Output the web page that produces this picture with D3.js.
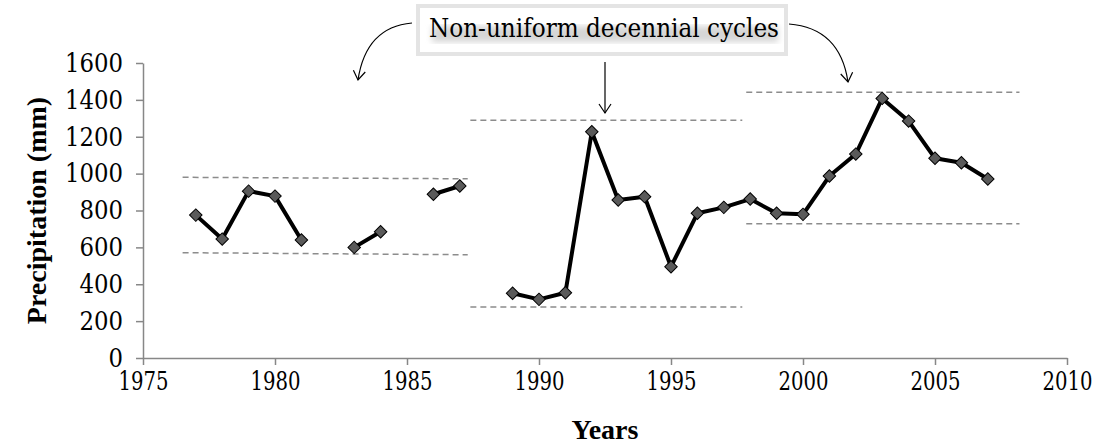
<!DOCTYPE html>
<html>
<head>
<meta charset="utf-8">
<script src="https://cdn.jsdelivr.net/npm/d3@7"></script>
<style>
  body { margin: 0; background: #fff; }
  svg { display: block; }
  .axis path, .axis line { stroke: #878787; stroke-width: 1.5; }
</style>
</head>
<body>
<svg id="chart"></svg>
<script>
// yearly precipitation (mm), null = no record
var years = [1977, 1978, 1979, 1980, 1981, 1982, 1983, 1984, 1985, 1986, 1987, 1988,
  1989, 1990, 1991, 1992, 1993, 1994, 1995, 1996, 1997, 1998, 1999, 2000,
  2001, 2002, 2003, 2004, 2005, 2006, 2007];
var precip = [775, 645, 905, 878, 640, null, 600, 685, null, 888, 933, null,
  351, 318, 354, 1227, 857, 875, 495, 785, 817, 862, 785, 779,
  987, 1106, 1408, 1285, 1083, 1059, 971];

// decennial cycle bands (dashed guides)
var bandStart = [1976.5, 1987.4, 1997.85];
var bandEnd = [1987.3, 1997.7, 2008.2];
var bandUpperStart = [980, 1289, 1441];
var bandUpperEnd = [972, 1289, 1441];
var bandLowerStart = [571, 276, 728];
var bandLowerEnd = [560, 276, 728];

var xTicks = [1975, 1980, 1985, 1990, 1995, 2000, 2005, 2010];
var yTicks = [0, 200, 400, 600, 800, 1000, 1200, 1400, 1600];

var WIDTH = 1102, HEIGHT = 446;
var SERIF = "'Liberation Serif', 'Times New Roman', serif";
var SERIF_REG = "'DejaVu Serif Condensed', 'DejaVu Serif', serif";

function drawChart() {
  var svg = d3.select("#chart").attr("width", WIDTH).attr("height", HEIGHT);

  var xScale = d3.scaleLinear().domain([1975, 2010]).range([143, 1067]);
  var yScale = d3.scaleLinear().domain([0, 1600]).range([358, 63]);

  // axes
  var yAxis = d3.axisLeft(yScale).tickValues(yTicks).tickSize(7).tickPadding(13)
    .tickSizeOuter(0).tickFormat(d3.format("d"));
  var yG = svg.append("g").attr("class", "axis")
    .attr("transform", "translate(143,0)")
    .call(yAxis);

  var xAxis = d3.axisBottom(xScale).tickValues(xTicks).tickSize(7).tickPadding(7)
    .tickSizeOuter(0).tickFormat(d3.format("d"));
  var xG = svg.append("g").attr("class", "axis")
    .attr("transform", "translate(0,358)")
    .call(xAxis);

  svg.selectAll(".axis").attr("font-family", SERIF_REG).attr("font-size", 26);
  svg.selectAll(".axis text")
    .style("font-family", SERIF_REG)
    .style("font-size", "26px")
    .attr("fill", "#000")
    .attr("lengthAdjust", "spacingAndGlyphs");
  // squeeze the digits so they look like the narrow Times figures
  yG.selectAll("text").attr("textLength", function(d) { return String(d).length * 14.5; });
  xG.selectAll("text").attr("textLength", function(d) { return String(d).length * 12.5; });

  // axis titles
  svg.append("text")
    .style("font-family", SERIF).style("font-weight", "bold").style("font-size", "28px")
    .attr("text-anchor", "middle")
    .attr("transform", "translate(46," + ((63 + 358) / 2) + ") rotate(-90)")
    .text("Precipitation (mm)");
  svg.append("text")
    .style("font-family", SERIF).style("font-weight", "bold").style("font-size", "28px")
    .attr("text-anchor", "middle")
    .attr("x", (143 + 1067) / 2)
    .attr("y", 439)
    .text("Years");

  // dashed band guides
  var bands = d3.range(bandStart.length);
  var dashGroup = svg.append("g")
    .attr("stroke", "#8c8c8c")
    .attr("stroke-width", 1.5)
    .attr("stroke-dasharray", "6,4");
  bands.forEach(function(i) {
    dashGroup.append("line")
      .attr("x1", xScale(bandStart[i])).attr("x2", xScale(bandEnd[i]))
      .attr("y1", yScale(bandUpperStart[i])).attr("y2", yScale(bandUpperEnd[i]));
    dashGroup.append("line")
      .attr("x1", xScale(bandStart[i])).attr("x2", xScale(bandEnd[i]))
      .attr("y1", yScale(bandLowerStart[i])).attr("y2", yScale(bandLowerEnd[i]));
  });

  // precipitation line
  var data = years.map(function(y, i) { return { year: y, value: precip[i] }; });
  var line = d3.line()
    .defined(function(d) { return d.value != null; })
    .x(function(d) { return xScale(d.year); })
    .y(function(d) { return yScale(d.value); });

  svg.append("path")
    .datum(data)
    .attr("d", line)
    .attr("fill", "none")
    .attr("stroke", "#000")
    .attr("stroke-width", 4)
    .attr("stroke-linejoin", "round");

  // diamond markers
  var diamond = d3.symbol().type(d3.symbolSquare).size(78);
  svg.selectAll(".pt")
    .data(data.filter(function(d) { return d.value != null; }))
    .enter()
    .append("path")
    .attr("class", "pt")
    .attr("d", diamond)
    .attr("transform", function(d) {
      return "translate(" + xScale(d.year) + "," + yScale(d.value) + ") rotate(45)";
    })
    .attr("fill", "#5a5a5a")
    .attr("stroke", "#000")
    .attr("stroke-width", 1);

  drawAnnotation(svg);
}

// "Non-uniform decennial cycles" box with arrows
function drawAnnotation(svg) {
  var defs = svg.append("defs");
  defs.append("filter").attr("id", "blur")
    .append("feGaussianBlur").attr("stdDeviation", 3);
  defs.append("marker")
    .attr("id", "arrowHead")
    .attr("viewBox", "-10 -8 12 16")
    .attr("markerWidth", 12).attr("markerHeight", 16)
    .attr("markerUnits", "userSpaceOnUse")
    .attr("orient", "auto")
    .append("path")
    .attr("d", "M-9,-6 L0,0 L-9,6")
    .attr("fill", "none")
    .attr("stroke", "#000")
    .attr("stroke-width", 1.2);

  svg.append("rect")
    .attr("x", 418).attr("y", 6).attr("width", 368).attr("height", 48)
    .attr("fill", "#fff")
    .attr("stroke", "#e4e4e4")
    .attr("stroke-width", 4);
  svg.append("rect")
    .attr("x", 432).attr("y", 26).attr("width", 346).attr("height", 16)
    .attr("fill", "#d6d6d6")
    .attr("filter", "url(#blur)");
  svg.append("text")
    .style("font-family", SERIF_REG).style("font-size", "26px")
    .attr("x", 604).attr("y", 37)
    .attr("text-anchor", "middle")
    .attr("textLength", 350)
    .attr("lengthAdjust", "spacingAndGlyphs")
    .text("Non-uniform decennial cycles");

  var arrows = svg.append("g")
    .attr("fill", "none")
    .attr("stroke", "#000")
    .attr("stroke-width", 1.2)
    .attr("marker-end", "url(#arrowHead)");
  arrows.append("path").attr("d", "M412,23 Q366,27 358,80");
  arrows.append("path").attr("d", "M605,62 L605,113");
  arrows.append("path").attr("d", "M789,24 Q840,28 848,82");
}

drawChart();
</script>
</body>
</html>
